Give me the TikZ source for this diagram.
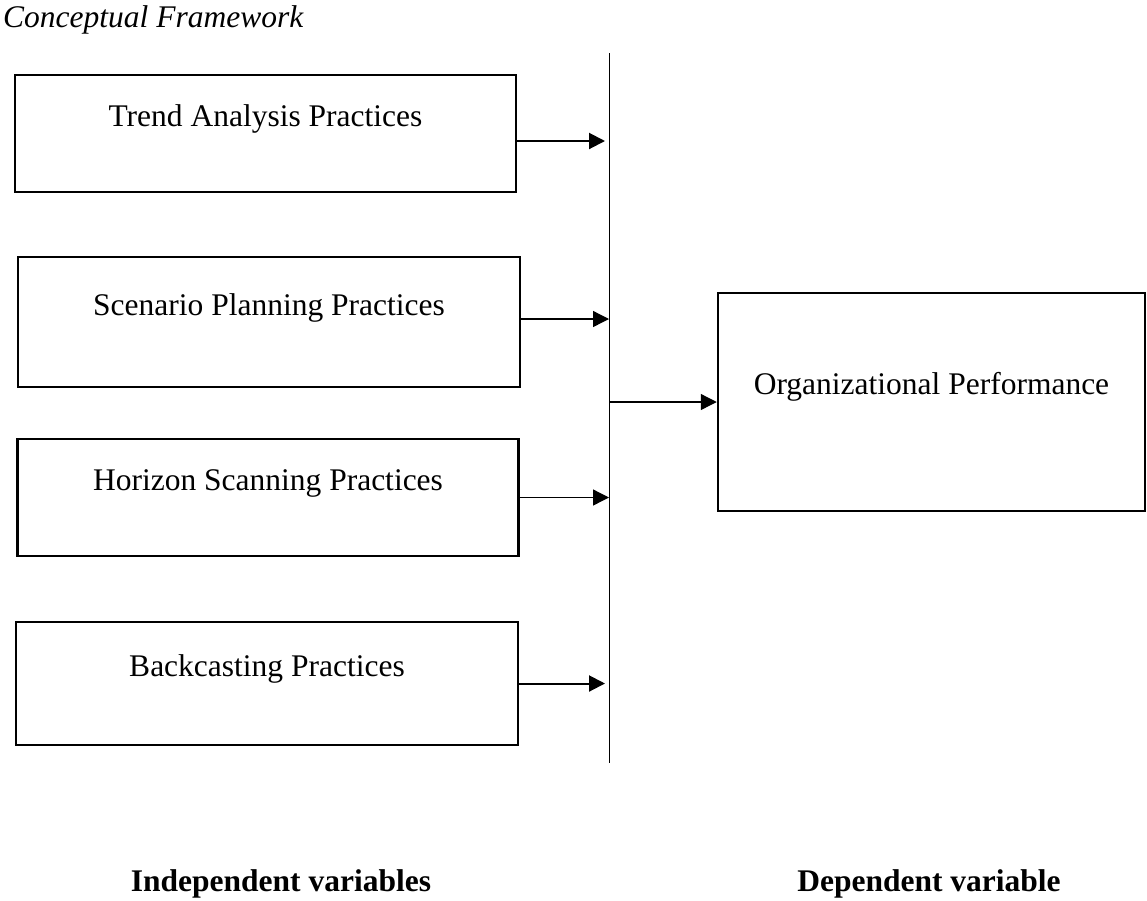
\documentclass[tikz,border=0pt]{standalone}
\usepackage{fontspec}
\setmainfont{Liberation Serif}
\usetikzlibrary{arrows.meta}
\newcommand{\cfwfont}{\fontsize{31.5}{38}\selectfont}
\tikzset{
  varbox/.style={draw, line width=2.5pt, minimum width=501pt, inner sep=0pt,
    text height=22pt, text depth=36pt, font=\cfwfont},
  link/.style={line width=1.3pt, -{Triangle[length=16pt,width=16pt]}},
  heavylink/.style={link, line width=2pt}
}

\begin{document}
\begin{tikzpicture}[x=1pt, y=-1pt]
  \useasboundingbox (0,0) rectangle (1147,900);

  % Title of the figure
  \node[anchor=base west, inner sep=0pt, font=\cfwfont\itshape] (title) at (3,27) {Conceptual Framework};

  % Boxes of the independent variables
  \node[varbox, minimum height=117pt] (trend) at (265.5,133.5) {Trend Analysis Practices};
  \node[varbox, minimum width=502pt, minimum height=130pt] (scen) at (269,322) {Scenario Planning Practices};
  \node[varbox, minimum height=117pt] (horiz) at (268,497.5) {Horizon Scanning Practices};
  \node[varbox, minimum width=502pt, minimum height=123pt] (back) at (267,683.5) {Backcasting Practices};

  % Box of the dependent variable
  \node[varbox, minimum width=427pt, minimum height=218pt, text depth=38pt] (perf) at (931.5,402) {Organizational Performance};

  % The vertical bar
  \coordinate (bartop) at (609,53);
  \coordinate (barbot) at (609,763);
  \draw[line width=1pt] (bartop) -- (barbot);

  % Arrows from the boxes into the bar
  \coordinate (t1) at ([yshift=-7.5pt]trend.east);
  \coordinate (t2) at ([yshift=3pt]scen.east);
  \coordinate (t3) at (horiz.east);
  \coordinate (t4) at (back.east);
  \draw[heavylink, shorten >=4pt] (t1) -- (t1 -| bartop);
  \draw[link] (t2) -- (t2 -| bartop);
  \draw[link] (t3) -- (t3 -| bartop);
  \draw[heavylink, shorten >=4pt] (t4) -- (t4 -| bartop);

  % Arrow from the bar to the dependent variable
  \draw[link] (bartop |- perf.west) -- (perf.west);

  % Captions under the columns
  \node[anchor=base, inner sep=0pt, font=\cfwfont\bfseries] (indep) at (281,891) {Independent variables};
  \node[anchor=base, inner sep=0pt, font=\cfwfont\bfseries] (dep) at (929,891) {Dependent variable};
\end{tikzpicture}
\end{document}
